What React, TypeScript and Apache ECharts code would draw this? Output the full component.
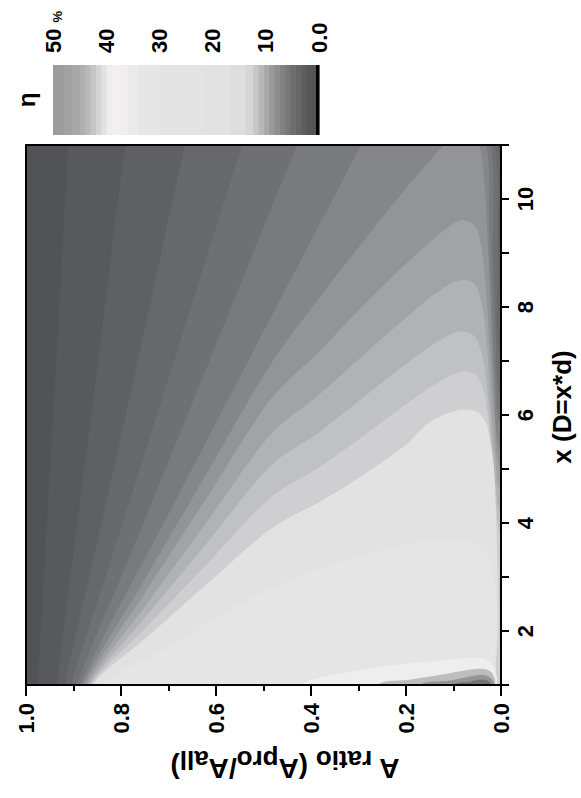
import { useEffect, useRef } from "react";
import * as echarts from "echarts";

const FONT = '"Liberation Sans", Arial, Helvetica, sans-serif';

// ---------- colour bar (eta in %) ----------
const cbEdges = [0, 0.7, 1.5, 2.5, 3.5, 4.5, 5.5, 6.5, 7.5, 8.5, 9.5, 10.5, 11.5, 12.5, 14, 17, 22, 30, 34, 36, 37.5, 39, 40, 41, 42, 43, 44, 45, 46.5, 48, 50];
const cbColors = [
  "#000000", "#555555", "#585858", "#5e5e5e", "#666666", "#6e6e6e", "#787878", "#828282", "#8e8e8e", "#9a9a9a",
  "#a8a8a8", "#b8b8b8", "#c8c8c8", "#d6d6d6", "#dedede", "#e2e2e2", "#e4e4e4", "#e6e6e6", "#eaeaea", "#f0eeee",
  "#f4f0f0", "#eeeeee", "#e2e2e2", "#d4d4d4", "#c6c6c6", "#bababa", "#b0b0b0", "#a8a8a8", "#a2a2a2", "#9c9c9c",
];

// ---------- contour boundaries: [A ratio, x] ----------
const c01 = [[0.975, 1], [0.956, 4], [0.933, 7.5], [0.911, 11], [0.9, 12.5], [0, 12.5]];
const c02 = [[0.935, 1], [0.899, 3.5], [0.854, 6.6], [0.791, 11], [0.76, 12.5], [0, 12.5]];
const c03 = [[0.918, 1], [0.867, 3], [0.79, 6], [0.665, 11], [0.62, 12.5], [0.1, 12.5], [0.006, 11], [0, 9]];
const c04 = [[0.904, 1], [0.831, 3.04], [0.728, 5.9], [0.545, 11], [0.49, 12.5], [0.1, 12.5], [0.014, 11], [0.007, 9], [0, 7]];
const c05 = [[0.893, 1], [0.79, 3.2], [0.66, 6], [0.485, 9.8], [0.429, 11], [0.36, 12.5], [0.1, 12.5], [0.022, 11], [0.017, 9], [0.011, 7.5], [0, 6.3]];
const c06 = [[0.886, 1], [0.686, 4.4], [0.485, 7.8], [0.295, 11], [0.21, 12.5], [0.1, 12.5], [0.031, 11], [0.025, 9.5], [0.019, 8], [0.013, 6.8], [0, 5.8]];
const c07 = [[0.88, 1], [0.75, 2.96], [0.62, 4.91], [0.485, 6.94], [0.38, 8.2], [0.295, 9.16], [0.2, 10.2], [0.12, 11], [0.085, 11.3], [0.05, 11.1], [0.036, 10.4], [0.028, 9.2], [0.022, 8], [0.015, 6.6], [0, 5.3]];
const c08 = [[0.875, 1], [0.75, 2.7], [0.62, 4.46], [0.485, 6.29], [0.38, 7.2], [0.295, 7.98], [0.2, 8.8], [0.13, 9.35], [0.085, 9.6], [0.055, 9.5], [0.04, 9.05], [0.03, 8.1], [0.022, 7.0], [0.014, 6.0], [0, 5.0]];
const c09 = [[0.87, 1], [0.75, 2.45], [0.62, 4.01], [0.485, 5.64], [0.38, 6.4], [0.295, 7.07], [0.2, 7.8], [0.13, 8.3], [0.085, 8.5], [0.055, 8.42], [0.038, 7.95], [0.028, 7.1], [0.02, 6.0], [0.012, 5.2], [0, 4.6]];
const c10 = [[0.866, 1], [0.75, 2.24], [0.62, 3.62], [0.485, 5.06], [0.38, 5.7], [0.295, 6.29], [0.2, 6.95], [0.13, 7.38], [0.085, 7.55], [0.055, 7.45], [0.037, 7.0], [0.026, 6.2], [0.018, 5.3], [0.01, 4.6], [0, 4.2]];
const c11 = [[0.863, 1], [0.75, 2.04], [0.62, 3.23], [0.485, 4.47], [0.38, 5.05], [0.295, 5.58], [0.2, 6.2], [0.13, 6.62], [0.08, 6.81], [0.05, 6.72], [0.033, 6.3], [0.023, 5.6], [0.015, 4.8], [0.009, 4.2], [0, 3.8]];
const c12 = [[0.86, 1], [0.75, 1.85], [0.62, 2.86], [0.485, 3.89], [0.38, 4.4], [0.295, 4.86], [0.2, 5.45], [0.155, 5.84], [0.113, 6.03], [0.078, 6.1], [0.049, 6.05], [0.031, 5.84], [0.021, 5.45], [0.014, 4.93], [0.01, 4.0], [0.007, 3.0], [0.006, 2.0], [0.006, 1.0]];
const c13 = [[0.84, 1], [0.7, 1.7], [0.55, 2.5], [0.4, 3.1], [0.25, 3.5], [0.12, 3.7], [0.05, 3.6], [0.02, 3.2], [0.01, 2.4], [0.008, 1.0]];
const rim = [[0.42, 1], [0.33, 1.22], [0.22, 1.38], [0.12, 1.46], [0.06, 1.5], [0.03, 1.46], [0.014, 1.32], [0.008, 1.1], [0.007, 1.0]];
const spot1 = [[0.26, 1], [0.19, 1.1], [0.12, 1.2], [0.07, 1.28], [0.04, 1.3], [0.022, 1.25], [0.013, 1.12], [0.01, 1.0]];
const spot2 = [[0.17, 1], [0.11, 1.08], [0.07, 1.15], [0.04, 1.19], [0.024, 1.15], [0.015, 1.05], [0.013, 1.0]];
const spot3 = [[0.1, 1], [0.065, 1.06], [0.04, 1.1], [0.026, 1.07], [0.018, 1.0]];

const fieldLayers = [c01, c02, c03, c04, c05, c06, c07, c08, c09, c10, c11, c12, c13, rim, spot1, spot2, spot3];
const layerEta = [1, 1.5, 2.5, 3.5, 4.5, 5.5, 6.5, 7.5, 8.5, 9.5, 11, 16, 30, 37, 11, 8, 5];
const layerColors = [
  "#58595d", "#5e6064", "#66686b", "#6f7074", "#797a7e", "#85868a", "#939497", "#a2a3a6", "#b1b2b5",
  "#c0c1c3", "#cfcfd1", "#e2e2e3", "#e5e5e5", "#eeeeee", "#bdbdbd", "#949494", "#727272",
];
const fieldBackground = "#515356";

const closeRing = (pts: number[][]) => {
  const first = pts[0];
  const last = pts[pts.length - 1];
  return [...pts, [-0.05, last[1]], [-0.05, 0.5], [first[0], 0.5]];
};

export default function App() {
  const ref = useRef<HTMLDivElement>(null);
  useEffect(() => {
    if (!ref.current) return;
    const chart = echarts.init(ref.current, undefined, { renderer: "svg" });
    const labelStyle = { color: "#000", fontSize: 22, fontWeight: "bold" as const, fontFamily: FONT };
    const blackLine = { color: "#000", width: 2 };
    const option: any = {
      animation: false,
      backgroundColor: "#ffffff",
      grid: [
        { left: 26, top: 145, width: 475, height: 540, show: true, backgroundColor: fieldBackground, borderWidth: 0 },
        { left: 53, top: 65, width: 266, height: 70, show: false },
      ],
      xAxis: [
        {
          gridIndex: 0, type: "value", min: 0, max: 1, interval: 0.2, inverse: true, position: "bottom", z: 5,
          axisLine: { show: true, onZero: false, lineStyle: blackLine },
          axisTick: { show: true, length: 11, lineStyle: blackLine },
          minorTick: { show: true, splitNumber: 2, length: 6, lineStyle: blackLine },
          axisLabel: { ...labelStyle, rotate: 90, margin: 18, formatter: (v: number) => v.toFixed(1) },
          splitLine: { show: false }, minorSplitLine: { show: false },
        },
        {
          gridIndex: 0, type: "value", min: 0, max: 1, inverse: true, position: "top", z: 5,
          axisLine: { show: true, onZero: false, lineStyle: blackLine },
          axisTick: { show: false }, axisLabel: { show: false }, splitLine: { show: false },
        },
        {
          gridIndex: 1, type: "value", min: 0, max: 50, interval: 10, inverse: true, position: "top",
          axisLine: { show: false }, axisTick: { show: false }, splitLine: { show: false },
          axisLabel: {
            ...labelStyle, rotate: 90, margin: 12,
            formatter: (v: number) => (v === 0 ? "0.0" : v === 50 ? "{n|50} {p|%}" : String(v)),
            rich: {
              n: { ...labelStyle },
              p: { ...labelStyle, fontSize: 13, padding: [8, 0, 0, 0] },
            },
          },
        },
      ],
      yAxis: [
        {
          gridIndex: 0, type: "value", min: 1, max: 11, interval: 1, position: "right", z: 5,
          axisLine: { show: true, onZero: false, lineStyle: blackLine },
          axisTick: { show: true, length: 8, lineStyle: blackLine },
          axisLabel: { ...labelStyle, rotate: 90, margin: 13, formatter: (v: number) => (v % 2 === 0 ? String(v) : "") },
          splitLine: { show: false },
        },
        {
          gridIndex: 0, type: "value", min: 1, max: 11, position: "left", z: 5,
          axisLine: { show: true, onZero: false, lineStyle: blackLine },
          axisTick: { show: false }, axisLabel: { show: false }, splitLine: { show: false },
        },
        { gridIndex: 1, type: "value", min: 0, max: 1, show: false },
      ],
      series: [
        {
          type: "custom", name: "eta", xAxisIndex: 0, yAxisIndex: 0, clip: true, silent: true,
          data: fieldLayers.map((pts, i) => [pts[0][0], pts[0][1], layerEta[i], i]),
          renderItem: (_params: any, api: any) => {
            const i = api.value(3);
            const ring = closeRing(fieldLayers[i]).map((p) => api.coord(p));
            return { type: "polygon", shape: { points: ring, smooth: 0.3 }, style: { fill: layerColors[i] } };
          },
        },
        {
          type: "custom", name: "colorbar", xAxisIndex: 2, yAxisIndex: 2, silent: true,
          data: cbColors.map((_c, i) => [cbEdges[i], cbEdges[i + 1], i]),
          encode: { x: [0, 1] },
          renderItem: (_params: any, api: any) => {
            const p0 = api.coord([api.value(0), 0]);
            const p1 = api.coord([api.value(1), 1]);
            const x = Math.min(p0[0], p1[0]);
            const y = Math.min(p0[1], p1[1]);
            return {
              type: "rect",
              shape: { x, y, width: Math.abs(p1[0] - p0[0]) + 0.6, height: Math.abs(p1[1] - p0[1]) },
              style: { fill: cbColors[api.value(2)] },
            };
          },
        },
      ],
      graphic: [
        {
          type: "text", x: 26, y: 100, rotation: Math.PI / 2,
          style: { text: "η", fontSize: 24, fontWeight: "bold", fontFamily: FONT, fill: "#000", align: "center", verticalAlign: "middle" },
        },
        {
          type: "text", x: 562, y: 407, rotation: Math.PI / 2,
          style: { text: "x (D=x*d)", fontSize: 26, fontWeight: "bold", fontFamily: FONT, fill: "#000", align: "center", verticalAlign: "middle" },
        },
        {
          type: "text", x: 285, y: 768, rotation: Math.PI,
          style: {
            text: "{m|A}{s| ratio}{m| (A}{s|pro}{m|/A}{s|all}{m|)}",
            fill: "#000", align: "center", verticalAlign: "middle",
            rich: {
              m: { fontSize: 28, fontWeight: "bold", fontFamily: FONT, fill: "#000" },
              s: { fontSize: 26, fontWeight: "bold", fontFamily: FONT, fill: "#000", padding: [16, 0, 0, 0] },
            },
          },
        },
      ],
    };
    chart.setOption(option);
    return () => chart.dispose();
  }, []);
  return <div ref={ref} style={{ position: "fixed", left: 0, top: 0, width: 581, height: 798, background: "#fff" }} />;
}
